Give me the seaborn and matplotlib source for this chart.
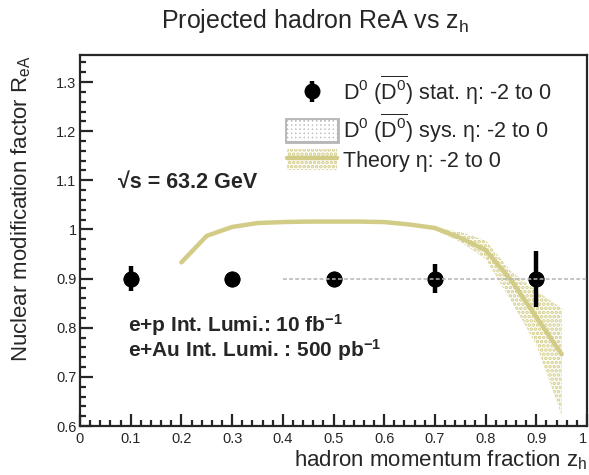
import numpy as np
import pandas as pd
import matplotlib
matplotlib.use("Agg")
import matplotlib.pyplot as plt
from matplotlib.patches import Rectangle
from matplotlib.lines import Line2D
from matplotlib.legend_handler import HandlerTuple
from matplotlib.ticker import MultipleLocator, FixedLocator
import seaborn as sns

# Projected D0 points (z_h bins) with statistical errors
zh_points = [0.1, 0.3, 0.5, 0.7, 0.9]
rea_points = [0.9, 0.9, 0.9, 0.9, 0.9]
stat_err = [0.025, 0.004, 0.006, 0.03, 0.057]

# Systematic band (flat, drawn as a thin line)
sys_x = [0.4, 1.0]
sys_y = [0.9, 0.9]

# Theory curve
theory_x = [0.20, 0.25, 0.30, 0.35, 0.40, 0.45, 0.50, 0.55, 0.60, 0.65,
            0.70, 0.75, 0.80, 0.85, 0.90, 0.95]
theory_y = [0.933, 0.987, 1.005, 1.013, 1.015, 1.016, 1.016, 1.016, 1.015,
            1.010, 1.003, 0.983, 0.958, 0.897, 0.822, 0.746]

# Theory uncertainty band
band_x = [0.70, 0.75, 0.80, 0.85, 0.90, 0.95]
band_hi = [1.004, 0.995, 0.978, 0.915, 0.875, 0.840]
band_lo = [0.998, 0.975, 0.940, 0.855, 0.765, 0.622]

x_ticks = [0, 0.1, 0.2, 0.3, 0.4, 0.5, 0.6, 0.7, 0.8, 0.9, 1]
x_ticklabels = ["0", "0.1", "0.2", "0.3", "0.4", "0.5", "0.6", "0.7", "0.8", "0.9", "1"]
y_ticks = [0.6, 0.7, 0.8, 0.9, 1.0, 1.1, 1.2, 1.3]
y_ticklabels = ["0.6", "0.7", "0.8", "0.9", "1", "1.1", "1.2", "1.3"]

sns.set_style("ticks")
plt.rcParams["font.family"] = ["Liberation Sans", "DejaVu Sans"]
plt.rcParams["mathtext.fontset"] = "custom"
plt.rcParams["mathtext.rm"] = "Liberation Sans"
plt.rcParams["mathtext.it"] = "Liberation Sans:italic"
plt.rcParams["mathtext.bf"] = "Liberation Sans:bold"
plt.rcParams["hatch.linewidth"] = 1.8

theory_color = "#d2cc86"

fig = plt.figure(figsize=(5.89, 4.75), dpi=100)
ax = fig.add_axes([80 / 589, 1 - 426 / 475, 507 / 589, 371 / 475])

# theory band (dotted fill)
ax.fill_between(band_x, band_lo, band_hi, facecolor="none", edgecolor=theory_color,
                hatch="....", linewidth=0, zorder=1)

# theory curve
sns.lineplot(x=theory_x, y=theory_y, ax=ax, color=theory_color, linewidth=3.2,
             zorder=2, legend=False)

# data points with stat errors
df = pd.DataFrame({"zh": zh_points, "rea": rea_points, "err": stat_err})
stat = ax.errorbar(df["zh"], df["rea"], yerr=df["err"], fmt="o", color="black",
                   markersize=10.5, elinewidth=3.2, capsize=0, zorder=3)
sns.scatterplot(data=df, x="zh", y="rea", ax=ax, color="black", s=110,
                edgecolor="black", zorder=4, legend=False)

# systematic line
ax.plot(sys_x, sys_y, color="#b4b4b4", linewidth=1.1, linestyle=(0, (2.5, 1.5)), zorder=5)

ax.set_xlim(0, 1)
ax.set_ylim(0.6, 1.355)
ax.xaxis.set_major_locator(FixedLocator(x_ticks))
ax.set_xticklabels(x_ticklabels)
ax.get_xticklabels()[-1].set_horizontalalignment("right")
ax.yaxis.set_major_locator(FixedLocator(y_ticks))
ax.set_yticklabels(y_ticklabels)
ax.xaxis.set_minor_locator(MultipleLocator(0.02))
ax.yaxis.set_minor_locator(MultipleLocator(0.02))
ax.tick_params(which="both", direction="in", width=1.6, labelsize=10.5,
               top=False, right=False)
ax.tick_params(which="major", length=9)
ax.tick_params(axis="y", which="major", pad=2.5)
ax.tick_params(axis="x", which="major", pad=4)
ax.tick_params(which="minor", length=4.5)
for s in ax.spines.values():
    s.set_linewidth(1.6)
    s.set_visible(True)
ax.set_xlabel("")
ax.set_ylabel("")

fig.text(587 / 589, 1 - 460 / 475, "hadron momentum fraction z$_{\\mathrm{h}}$",
         ha="right", va="center", fontsize=16)
fig.text(21 / 589, 1 - 55 / 475, "Nuclear modification factor R$_{\\mathrm{eA}}$",
         ha="center", va="top", rotation=90, fontsize=16)
fig.text(315 / 589, 1 - 21 / 475, "Projected hadron ReA vs z$_{\\mathrm{h}}$",
         ha="center", va="center", fontsize=18)

ax.text(0.075, 1.095, "\u221as = 63.2 GeV", fontsize=15.5, fontweight="bold",
        ha="left", va="center")
ax.text(0.095, 0.806, "e+p Int. Lumi.: 10 fb$\\mathbf{^{-1}}$", fontsize=15,
        fontweight="bold", ha="left", va="center")
ax.text(0.095, 0.755, "e+Au Int. Lumi. : 500 pb$\\mathbf{^{-1}}$", fontsize=15,
        fontweight="bold", ha="left", va="center")

# legend
sys_fill = Rectangle((0, 0), 1, 1, facecolor="#c4c4c4", edgecolor="#b8b8b8", linewidth=3.5)
sys_hatch = Rectangle((0, 0), 1, 1, facecolor="none", edgecolor="white", hatch="++++",
                      linewidth=0)
th_band = Rectangle((0, 0), 1, 1, facecolor="none", edgecolor=theory_color,
                    hatch="....", linewidth=0)
th_line = Line2D([], [], color=theory_color, linewidth=3.2)
handles = [stat, (sys_fill, sys_hatch), (th_band, th_line)]
labels = ["D$^0$ ($\\overline{\\mathrm{D}^0}$) stat. \u03b7: -2 to 0",
          "D$^0$ ($\\overline{\\mathrm{D}^0}$) sys. \u03b7: -2 to 0",
          "Theory \u03b7: -2 to 0"]
leg = ax.legend(handles, labels, loc="upper left",
                bbox_to_anchor=(287 / 589, 1 - 74 / 475), bbox_transform=fig.transFigure,
                frameon=False, fontsize=15.5, handlelength=2.3, handleheight=1.1,
                labelspacing=0.2, handletextpad=0.3, borderpad=0, borderaxespad=0,
                handler_map={tuple: HandlerTuple(ndivide=1)})

fig.savefig("out.png", dpi=100)
